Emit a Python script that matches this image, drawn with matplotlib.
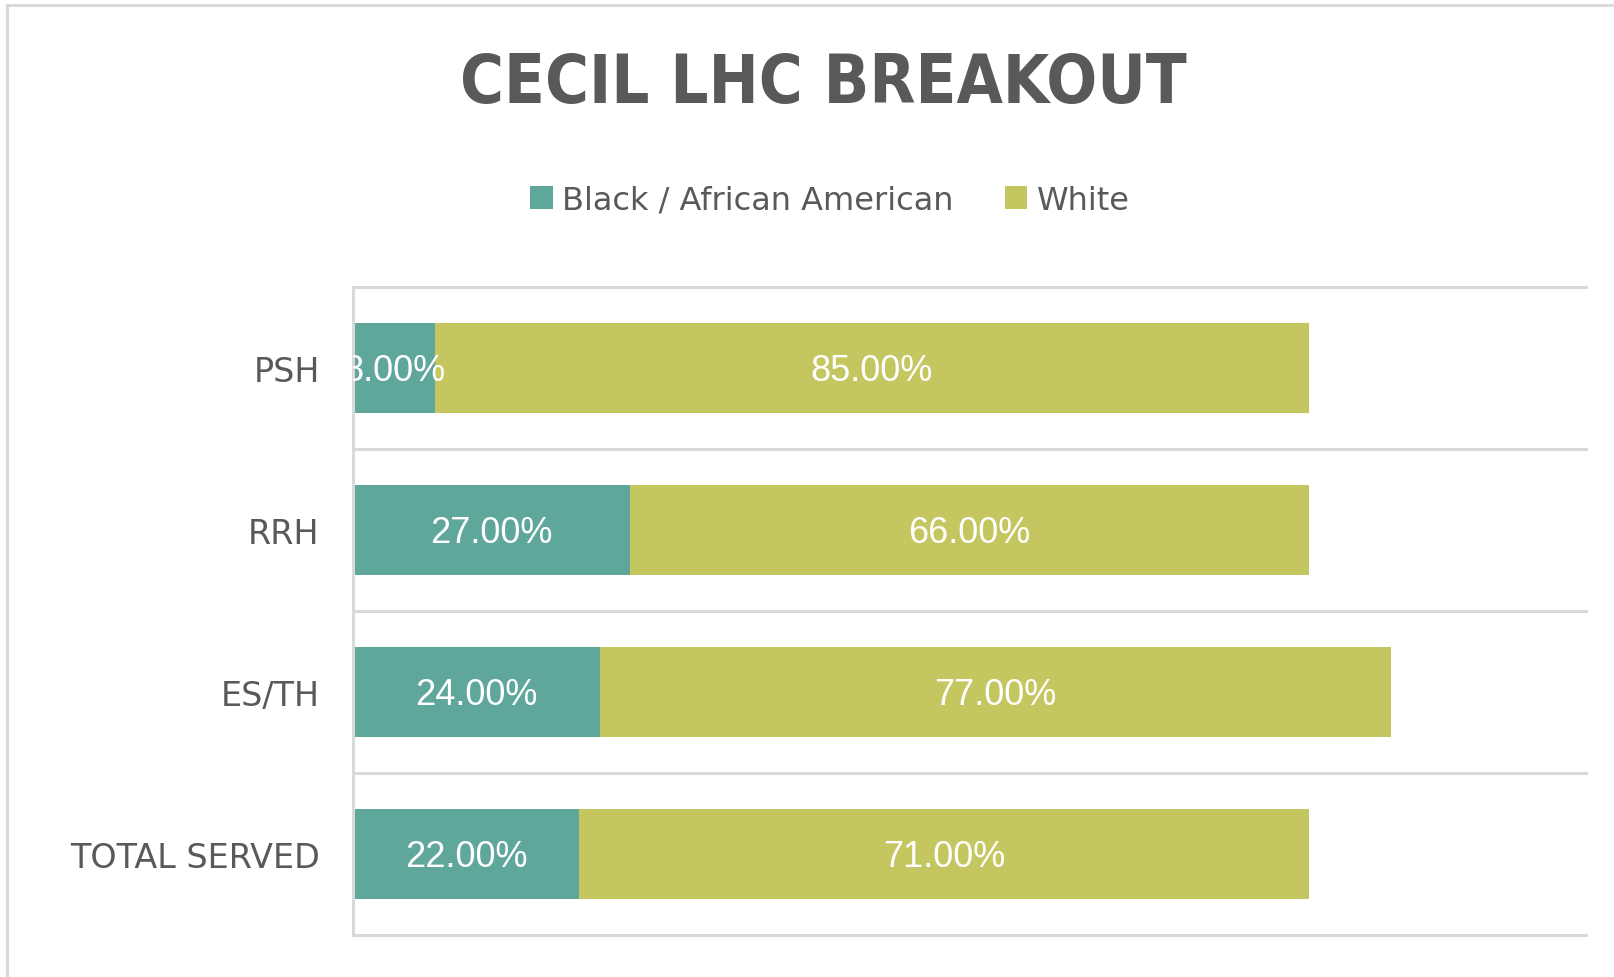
import matplotlib
matplotlib.use("Agg")
import matplotlib.pyplot as plt
from matplotlib.lines import Line2D
from matplotlib.patches import Patch

# ---- data ----
categories = ["PSH", "RRH", "ES/TH", "TOTAL SERVED"]
black_pct = [8, 27, 24, 22]
white_pct = [85, 66, 77, 71]
series_names = ["Black / African American", "White"]
title = "CECIL LHC BREAKOUT"

# ---- style ----
colors = ["#5FA79B", "#C4C660"]
text_gray = "#595959"
line_gray = "#D9D9D9"

W, H = 1615, 978
fig = plt.figure(figsize=(W / 100, H / 100), dpi=100)
fig.patch.set_facecolor("white")

ax = fig.add_axes([353 / W, 1 - 936 / H, (1586 - 353) / W, (936 - 288) / H])
ypos = list(range(len(categories)))
bar_h = 0.56
b1 = ax.barh(ypos, black_pct, height=bar_h, color=colors[0], label=series_names[0], zorder=2)
b2 = ax.barh(ypos, white_pct, left=black_pct, height=bar_h, color=colors[1],
             label=series_names[1], zorder=2)

ax.set_ylim(len(categories) - 0.5, -0.5)
ax.set_xlim(0, 120)

for sp in ax.spines.values():
    sp.set_visible(False)
ax.set_xticks([])
ax.set_yticks(ypos)
ax.set_yticklabels(categories, fontsize=24, color=text_gray)
ax.tick_params(axis="y", length=0, pad=24)

# category separators (gridlines) and the category axis line
for i in range(len(categories) + 1):
    ax.axhline(i - 0.5, color=line_gray, lw=2.2, clip_on=False, zorder=1)
ax.axvline(0, color=line_gray, lw=2.2, clip_on=False, zorder=3)

# data labels
for i in ypos:
    for x, v in ((black_pct[i] / 2, black_pct[i]),
                 (black_pct[i] + white_pct[i] / 2, white_pct[i])):
        ax.annotate(f"{v:.2f}%", (x, i), xytext=(0, -2), textcoords="offset points",
                    ha="center", va="center", color="white", fontsize=26,
                    family="Liberation Sans", clip_on=True, zorder=4)

# title
fig.text(823 / W, 1 - 84 / H, title, ha="center", va="center", fontsize=48,
         fontweight="bold", color=text_gray, fontstretch="condensed")

# legend
handles = [Patch(facecolor=colors[0], edgecolor="none"),
           Patch(facecolor=colors[1], edgecolor="none")]
fig.legend(handles, series_names, loc="center", bbox_to_anchor=(830 / W, 1 - 201 / H),
           ncol=2, frameon=False, fontsize=23, labelcolor=text_gray,
           handlelength=0.7, handleheight=0.7, handletextpad=0.3, columnspacing=1.6)

# outer chart border (left and top visible)
fig.add_artist(Line2D([7 / W, 7 / W], [0, 1 - 6 / H], transform=fig.transFigure,
                      color=line_gray, lw=2.2))
fig.add_artist(Line2D([7 / W, 1], [1 - 6 / H, 1 - 6 / H], transform=fig.transFigure,
                      color=line_gray, lw=2.2))

fig.savefig("out.png", dpi=100)
